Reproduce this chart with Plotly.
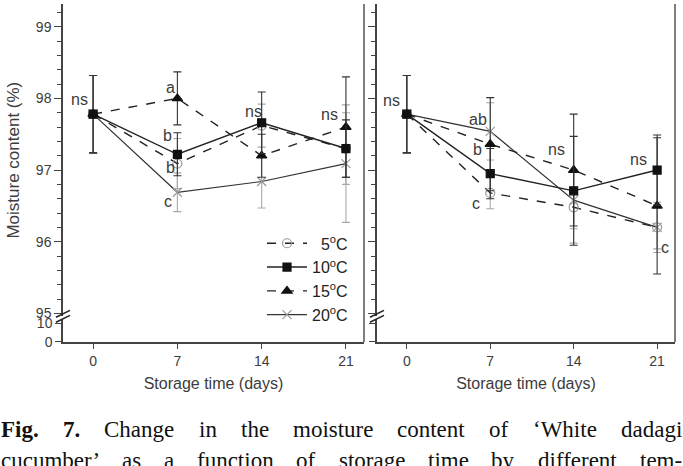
import plotly.graph_objects as go

# ---------------- data ----------------
days = [0, 7, 14, 21]
series_names = ["\u00a0\u00a05<sup>o</sup>C", "10<sup>o</sup>C", "15<sup>o</sup>C", "20<sup>o</sup>C"]

# left panel
left_5 = [97.78, 97.09, 97.62, 97.30]
left_10 = [97.78, 97.22, 97.66, 97.30]
left_15 = [97.78, 98.00, 97.20, 97.60]
left_20 = [97.78, 96.69, 96.84, 97.09]
left_5_err = [0.54, 0.35, 0.30, 0.50]
left_10_err = [0.54, 0.30, 0.43, 0.40]
left_15_err = [0.54, 0.37, 0.30, 0.70]
left_20_err = [0.54, 0.27, 0.37, 0.82]

# right panel
right_5 = [97.78, 96.68, 96.48, 96.20]
right_10 = [97.78, 96.95, 96.71, 97.00]
right_15 = [97.78, 97.36, 97.00, 96.50]
right_20 = [97.78, 97.54, 96.58, 96.20]
right_5_err = [0.54, 0.22, 0.50, 0.30]
right_10_err = [0.54, 0.35, 0.76, 0.49]
right_15_err = [0.54, 0.65, 0.78, 0.95]
right_20_err = [0.54, 0.40, 0.40, 0.35]

# significance letters: (text, x, y)
left_letters = [("ns", -1.1, 97.98), ("a", 6.4, 98.15), ("b", 6.15, 97.48),
                ("b", 6.4, 97.04), ("c", 6.2, 96.56), ("ns", 13.35, 97.82),
                ("ns", 19.6, 97.77)]
right_letters = [("ns", -1.3, 97.97), ("ab", 5.95, 97.71), ("b", 5.95, 97.28),
                 ("c", 5.8, 96.53), ("ns", 12.55, 97.28), ("ns", 19.4, 97.15),
                 ("c", 21.7, 95.92)]

x_ticks = [0, 7, 14, 21]
y_upper_ticks = [95, 96, 97, 98, 99]
y_lower_ticks = [0, 10]

caption_line1 = ["Fig.", "7.", "Change", "in", "the", "moisture", "content", "of", "\u2018White", "dadagi"]
caption_line1_bold = [True, True] + [False] * 8
caption_line2 = ["cucumber\u2019", "as", "a", "function", "of", "storage", "time", "by", "different", "tem-"]

# ---------------- layout geometry ----------------
W, H = 683, 466
ML, MR, MT, MB = 63, 8, 0, 124
PW = W - ML - MR
PH = H - MT - MB


def px(xp):
    return (xp - ML) / PW


def py(yp):
    return (H - MB - yp) / PH


# Times metrics (1/1000 em) for justifying the caption text
TIMES = {'a': 444, 'b': 500, 'c': 444, 'd': 500, 'e': 444, 'f': 333, 'g': 500, 'h': 500, 'i': 278,
         'm': 778, 'n': 500, 'o': 500, 'r': 333, 's': 389, 't': 278, 'u': 500, 'y': 500, 'l': 278,
         'W': 944, 'C': 667, '\u2018': 333, '\u2019': 333, '-': 333, '.': 250}
TIMES_B = {'F': 611, 'i': 278, 'g': 500, '.': 250, '7': 500}


def word_w(w, bold, size):
    tab = TIMES_B if bold else TIMES
    return sum(tab.get(ch, 500) for ch in w) * size / 1000.0


LINE = "#222222"
GRAY = "#a8a8a8"
TXT = "#3c3c3c"

styles = {
    0: dict(dash="dash", color=LINE, width=1.4, symbol="circle-open", msize=9, mcolor="#9a9a9a", ecolor=GRAY),
    1: dict(dash="solid", color=LINE, width=1.4, symbol="square", msize=8, mcolor="#111111", ecolor="#333333"),
    2: dict(dash="dash", color=LINE, width=1.4, symbol="triangle-up", msize=9, mcolor="#111111", ecolor="#333333"),
    3: dict(dash="solid", color="#333333", width=1.2, symbol="x-thin-open", msize=9, mcolor="#9a9a9a", ecolor=GRAY),
}

fig = go.Figure()

# empty helper traces so the lower (broken-axis) subplots exist
for xa, ya in [("x", "y"), ("x2", "y3")]:
    fig.add_trace(go.Scatter(x=[None], y=[None], xaxis=xa, yaxis=ya, showlegend=False,
                             hoverinfo="skip", mode="markers"))

panels = [
    ("x", "y2", [left_5, left_10, left_15, left_20], [left_5_err, left_10_err, left_15_err, left_20_err], True),
    ("x2", "y4", [right_5, right_10, right_15, right_20], [right_5_err, right_10_err, right_15_err, right_20_err], False),
]
draw_order = [0, 3, 2, 1]
for xa, ya, vals, errs, show in panels:
    for i in draw_order:
        s = styles[i]
        fig.add_trace(go.Scatter(
            x=days, y=vals[i], xaxis=xa, yaxis=ya, mode="lines+markers",
            name=series_names[i], legendrank=i + 1, showlegend=show,
            line=dict(color=s["color"], dash=s["dash"], width=s["width"]),
            marker=dict(symbol=s["symbol"], size=s["msize"], color=s["mcolor"],
                        line=dict(color=s["mcolor"], width=1.2)),
            error_y=dict(type="data", array=errs[i], visible=True, color=s["ecolor"],
                         thickness=1.1, width=4),
        ))

FONT = "Liberation Sans, Arial"
tickfont = dict(family=FONT, size=14, color=TXT)
xcommon = dict(range=[-2.5, 22.5], tickvals=x_ticks, ticks="outside", ticklen=5, tickwidth=1.2,
               tickcolor="#444", showline=True, linecolor="#444", linewidth=1.5, showgrid=False,
               zeroline=False, tickfont=tickfont,
               title=dict(text="Storage time (days)", font=dict(family=FONT, size=16, color=TXT), standoff=10))
lower_dom = [0, 23 / PH]
upper_dom = [26 / PH, 1]
ylow = dict(domain=lower_dom, range=[0, 12], tickvals=y_lower_ticks, ticks="outside", ticklen=6,
            tickwidth=1.2, tickcolor="#444", showline=True, linecolor="#444", linewidth=1.5,
            showgrid=False, zeroline=False, tickfont=tickfont)
yup = dict(domain=upper_dom, range=[94.959, 99.317], tickvals=y_upper_ticks, ticks="outside", ticklen=7,
           tickwidth=1.2, tickcolor="#444", showline=True, linecolor="#444", linewidth=1.5,
           showgrid=False, zeroline=False, tickfont=tickfont,
           minor=dict(dtick=0.2, tick0=95, ticks="outside", ticklen=4, tickcolor="#444", tickwidth=1))

fig.update_layout(
    width=W, height=H,
    margin=dict(l=ML, r=MR, t=MT, b=MB),
    paper_bgcolor="white", plot_bgcolor="white",
    xaxis=dict(domain=[0, (364 - ML) / PW], anchor="y", **xcommon),
    xaxis2=dict(domain=[(377 - ML) / PW, 1], anchor="y3", **xcommon),
    yaxis=dict(anchor="x", **ylow),
    yaxis2=dict(anchor="x", title=dict(text="Moisture content (%)", font=dict(family=FONT, size=17, color=TXT), standoff=12), **yup),
    yaxis3=dict(anchor="x2", showticklabels=False, **ylow),
    yaxis4=dict(anchor="x2", showticklabels=False, **yup),
    legend=dict(x=px(262), y=py(225), xanchor="left", yanchor="top", bgcolor="rgba(0,0,0,0)",
                font=dict(family=FONT, size=16, color="#222"),
                tracegroupgap=0, itemwidth=40),
    showlegend=True,
)

# panel right borders
for xd in ["x domain", "x2 domain"]:
    fig.add_shape(type="line", xref=xd, yref="paper", x0=1, x1=1, y0=0, y1=1,
                  line=dict(color="#555", width=1.5))

# axis break marks
for axx in [63, 377]:
    for dy in [0, 5]:
        fig.add_shape(type="line", xref="paper", yref="paper",
                      x0=px(axx - 7), y0=py(322 - dy), x1=px(axx + 7), y1=py(315 - dy),
                      line=dict(color="#222", width=1.5))

# letters
for letters, xr, yr in [(left_letters, "x", "y2"), (right_letters, "x2", "y4")]:
    for t, lx, ly in letters:
        fig.add_annotation(text=t, x=lx, y=ly, xref=xr, yref=yr, showarrow=False,
                           font=dict(family=FONT, size=16, color=TXT))

# caption (justified across the full width)
CAP_SIZE = 23
X_LEFT, X_RIGHT = 1, 682
for words, bolds, yc in [(caption_line1, caption_line1_bold, 431), (caption_line2, [False] * 10, 462)]:
    widths = [word_w(w, b, CAP_SIZE) for w, b in zip(words, bolds)]
    gap = (X_RIGHT - X_LEFT - sum(widths)) / (len(words) - 1)
    xpos = X_LEFT
    for w, b, wd in zip(words, bolds, widths):
        fig.add_annotation(text=f"<b>{w}</b>" if b else w, x=px(xpos + wd / 2), y=py(yc),
                           xref="paper", yref="paper", xanchor="center", yanchor="middle",
                           showarrow=False,
                           font=dict(family="Liberation Serif, Times New Roman", size=CAP_SIZE, color="#111"))
        xpos += wd + gap

fig.write_html("out.html")
